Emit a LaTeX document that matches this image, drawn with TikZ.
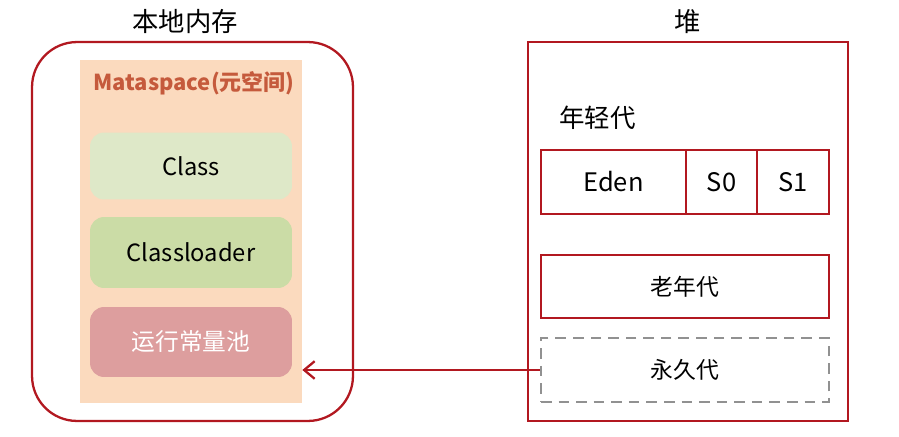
\documentclass[tikz,border=0pt]{standalone}
\usepackage{fontspec}
\setmainfont{Noto Sans CJK SC}
\usetikzlibrary{positioning, arrows.meta}
\definecolor{heapred}{RGB}{178, 24, 32}
\definecolor{metabg}{RGB}{251, 218, 190}
\definecolor{metatitle}{RGB}{197, 90, 60}
\definecolor{classgreen}{RGB}{222, 232, 200}
\definecolor{loadergreen}{RGB}{203, 220, 166}
\definecolor{poolred}{RGB}{221, 158, 158}
\definecolor{dashgray}{RGB}{145, 145, 145}
\tikzset{
  membox/.style={rounded corners=8pt, minimum width=4.04cm, font=\fontsize{13.5}{15}\selectfont},
  genbox/.style={draw=heapred, line width=1.3pt, minimum height=1.28cm, font=\fontsize{13}{15}\selectfont},
  areatitle/.style={font=\fontsize{15}{17}\selectfont}
}

\begin{document}
\begin{tikzpicture}[x=0.02cm, y=-0.02cm]
  \useasboundingbox (0,0) rectangle (899,436);
  % native memory side
  \node[draw=heapred, line width=1.3pt, rounded corners=0.9cm,
        minimum width=6.42cm, minimum height=7.58cm] (native) at (192.5,231.5) {};
  \node[fill=metabg, minimum width=4.44cm, minimum height=6.86cm] (meta) at (191,231.5) {};
  \node[areatitle] (nativetitle) at (185,22) {本地内存};
  \node[text=metatitle, font=\bfseries\fontsize{12.5}{15}\selectfont] (metatitle) at (194,83) {Mataspace(元空间)};
  \node[membox, fill=classgreen, minimum height=1.34cm] (class) at (191,166) {Class};
  \node[membox, fill=loadergreen, minimum height=1.42cm] (loader) at (191,252.5) {Classloader};
  \node[membox, fill=poolred, minimum height=1.40cm, text=white, font=\fontsize{13.5}{15}\selectfont] (pool) at (191,342) {运行常量池};
  % heap side
  \node[draw=heapred, line width=1.3pt, minimum width=6.4cm, minimum height=7.58cm] (heap) at (688,231.5) {};
  \node[areatitle] (heaptitle) at (688,22) {堆};
  \node[anchor=west, font=\fontsize{14.5}{16}\selectfont] (young) at (553,118) {年轻代};
  \node[genbox, minimum width=2.9cm, font=\fontsize{14.5}{16}\selectfont] (eden) at (613.5,182) {Eden};
  \node[genbox, minimum width=1.42cm, font=\fontsize{14.5}{16}\selectfont] (s0) at (721.5,182) {S0};
  \node[genbox, minimum width=1.44cm, font=\fontsize{14.5}{16}\selectfont] (s1) at (793,182) {S1};
  \node[genbox, minimum width=5.76cm, minimum height=1.26cm] (old) at (685,286.5) {老年代};
  \node[genbox, draw=dashgray, dash pattern=on 6pt off 4pt, minimum width=5.76cm] (perm) at (685,370) {永久代};
  \draw[heapred, line width=1.3pt, -{Straight Barb[length=6pt, width=10pt]}] (perm.west) -- (perm.west -| meta.east);
\end{tikzpicture}
\end{document}
